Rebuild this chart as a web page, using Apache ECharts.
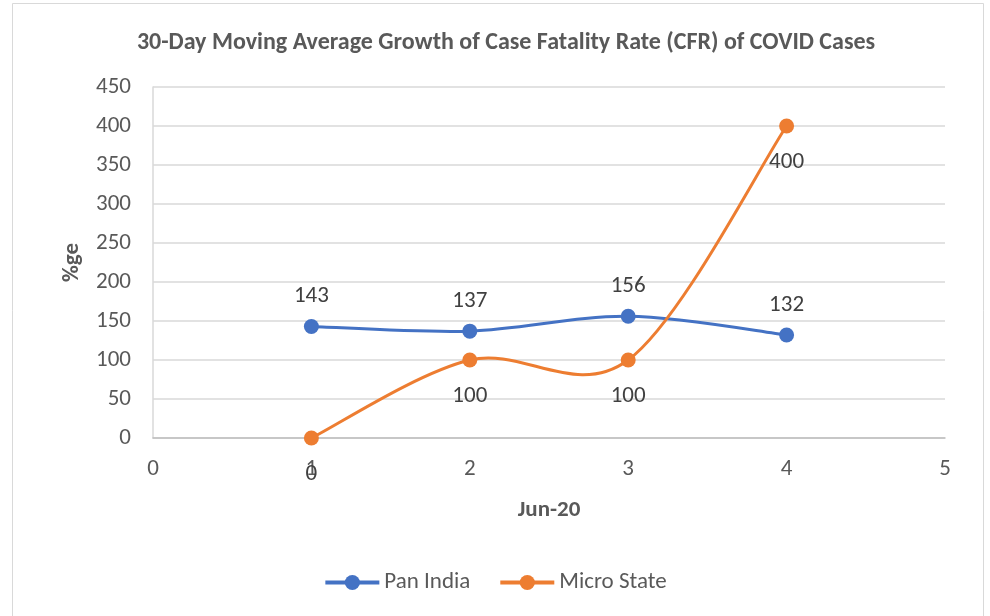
<!DOCTYPE html>
<html>
<head>
<meta charset="utf-8">
<script src="https://cdn.jsdelivr.net/npm/echarts@6/dist/echarts.min.js"></script>
<style>
  html, body { margin: 0; padding: 0; background: #fff; }
  #main { width: 990px; height: 616px; }
</style>
</head>
<body>
<div id="main"></div>
<script>
// x positions (days of Jun-20)
const days = [1, 2, 3, 4];
const panIndia = [143, 137, 156, 132];
const microState = [0, 100, 100, 400];

const textFont = 'Carlito, "Liberation Sans", "Open Sans", sans-serif';
const blue = '#4472c4';
const orange = '#ed7d31';

// Excel-like smoothed line: cardinal spline segments through the data points
function smoothSeries(name, values, color) {
  return {
    name: name + ' curve',
    type: 'custom',
    z: 1,
    silent: true,
    data: days.map((d, i) => [d, values[i]]),
    encode: { x: 0, y: 1 },
    renderItem: function (params, api) {
      const i = params.dataIndex;
      if (i >= days.length - 1) return null;
      const pt = k => {
        const j = Math.max(0, Math.min(days.length - 1, k));
        return api.coord([days[j], values[j]]);
      };
      const p0 = pt(i - 1), p1 = pt(i), p2 = pt(i + 1), p3 = pt(i + 2);
      const t = 1 / 6;
      return {
        type: 'bezierCurve',
        shape: {
          x1: p1[0], y1: p1[1], x2: p2[0], y2: p2[1],
          cpx1: p1[0] + (p2[0] - p0[0]) * t, cpy1: p1[1] + (p2[1] - p0[1]) * t,
          cpx2: p2[0] - (p3[0] - p1[0]) * t, cpy2: p2[1] - (p3[1] - p1[1]) * t
        },
        style: { fill: null, stroke: color, lineWidth: 3 }
      };
    }
  };
}

function pointSeries(name, values, color, pos, dist) {
  return {
    name: name,
    type: 'line',
    z: 3,
    data: days.map((d, i) => [d, values[i]]),
    symbol: 'circle',
    symbolSize: 15,
    itemStyle: { color: color },
    lineStyle: { color: color, width: 3, opacity: 0 },
    label: {
      show: true, position: pos, distance: dist,
      fontSize: 23, color: '#404040', fontFamily: textFont,
      formatter: p => p.value[1]
    }
  };
}

const chart = echarts.init(document.getElementById('main'));
const option = {
  backgroundColor: '#fff',
  animation: false,
  textStyle: { fontFamily: textFont },
  graphic: [{
    type: 'rect',
    shape: { x: 12.5, y: 3.5, width: 971, height: 620 },
    style: { fill: 'none', stroke: '#d9d9d9', lineWidth: 1 },
    silent: true
  }],
  title: {
    text: '30-Day Moving Average Growth of Case Fatality Rate (CFR) of COVID Cases',
    left: 501,
    textAlign: 'center',
    top: 26,
    textStyle: { fontSize: 24, fontWeight: 'bold', color: '#595959', fontFamily: textFont }
  },
  legend: {
    top: 566,
    left: 'center',
    itemWidth: 54,
    itemHeight: 19,
    itemGap: 28,
    textStyle: { fontSize: 23, color: '#595959', fontFamily: textFont },
    data: [
      { name: 'Pan India', lineStyle: { opacity: 1, width: 4 } },
      { name: 'Micro State', lineStyle: { opacity: 1, width: 4 } }
    ]
  },
  grid: { left: 153, right: 45, top: 87, bottom: 178 },
  xAxis: {
    type: 'value',
    min: 0, max: 5, interval: 1,
    name: 'Jun-20',
    nameLocation: 'middle',
    nameGap: 61,
    nameTextStyle: { fontSize: 23, fontWeight: 'bold', color: '#595959', fontFamily: textFont },
    axisLine: { lineStyle: { color: '#bfbfbf', width: 1.5 } },
    axisTick: { show: false },
    splitLine: { show: false },
    axisLabel: { fontSize: 23, color: '#595959', margin: 20, fontFamily: textFont }
  },
  yAxis: {
    type: 'value',
    min: 0, max: 450, interval: 50,
    name: '%ge',
    nameLocation: 'middle',
    nameGap: 69,
    nameRotate: 90,
    nameTextStyle: { fontSize: 23, fontWeight: 'bold', color: '#595959', fontFamily: textFont },
    axisLine: { show: true, lineStyle: { color: '#d9d9d9', width: 1.5 } },
    axisTick: { show: false },
    splitLine: { lineStyle: { color: '#d9d9d9', width: 1.5 } },
    axisLabel: { fontSize: 23, color: '#595959', margin: 22, fontFamily: textFont }
  },
  series: [
    smoothSeries('Pan India', panIndia, blue),
    smoothSeries('Micro State', microState, orange),
    pointSeries('Pan India', panIndia, blue, 'top', 11),
    pointSeries('Micro State', microState, orange, 'bottom', 17)
  ]
};
chart.setOption(option);
</script>
</body>
</html>
